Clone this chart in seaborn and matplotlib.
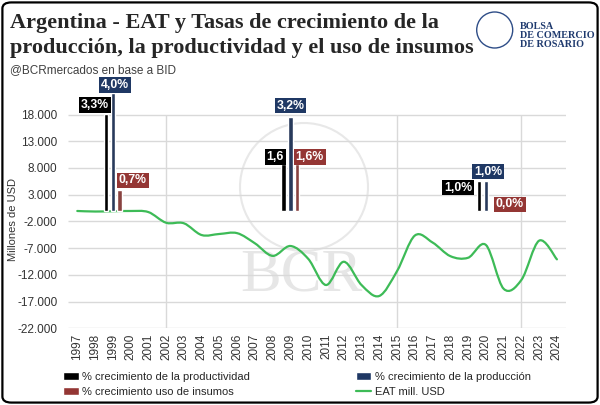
import numpy as np
import pandas as pd
import matplotlib
matplotlib.use("Agg")
import matplotlib.pyplot as plt
import seaborn as sns
from matplotlib.path import Path
from matplotlib.patches import PathPatch, Patch, Circle, FancyBboxPatch
from matplotlib.lines import Line2D
from matplotlib.ticker import FuncFormatter

# --- data ---
years = list(range(1997, 2025))
eat = [-50, -150, -100, -50, -250, -2250, -2350, -4550, -4350, -4200,
       -6100, -8450, -6600, -9000, -13900, -9550, -13900, -15950, -11300, -4650,
       -5950, -8500, -8800, -6400, -14600, -12950, -5600, -9100]

group_years = [1999, 2009, 2020]
productividad = [3.3, 1.6, 1.0]
produccion = [4.0, 3.2, 1.0]
insumos = [0.7, 1.6, 0.0]
lbl_productividad = ["3,3%", "1,6", "1,0%"]
lbl_produccion = ["4,0%", "3,2%", "1,0%"]
lbl_insumos = ["0,7%", "1,6%", "0,0%"]

series_names = ["% crecimiento de la productividad",
                "% crecimiento de la producción",
                "% crecimiento uso de insumos"]
line_name = "EAT mill. USD"

c_black = "#000000"
c_navy = "#1f3864"
c_red = "#943634"
c_green = "#3dbb57"

sns.set_theme(style="white")
plt.rcParams["font.family"] = ["Liberation Sans", "DejaVu Sans"]

fig = plt.figure(figsize=(6, 4.05), dpi=100)
ax = fig.add_axes([0.114, 0.1894, 0.829, 0.5806])
ax.set_facecolor("none")

# watermark (faint), kept behind the axes
fig.add_artist(Circle((3.04, 2.18), 0.64, transform=fig.dpi_scale_trans,
                      fill=False, edgecolor="#e8e8e8", lw=1.5, zorder=-1))
fig.text(0.502, 0.318, "BCR", family="Liberation Serif", fontsize=44,
         color="#e6e6e6", ha="center", va="center", zorder=-1)

# grid
ax.set_ylim(-22000, 22000)
ax.set_xlim(1996.5, 2024.5)
yt = np.arange(-22000, 18001, 5000)
ax.set_yticks(yt)
ax.hlines(yt, 1996.5, 2024.5, color="#d9d9d9", lw=1, zorder=1)
ax.vlines([2002, 2015, 2022], -22000, 18000, color="#d9d9d9", lw=1, zorder=1)
ax.yaxis.set_major_formatter(FuncFormatter(lambda v, p: f"{v:,.0f}".replace(",", ".")))
ax.set_xticks(years)
ax.set_xticklabels([str(y) for y in years], rotation=90)
ax.tick_params(axis="both", length=0, labelsize=8.5, labelcolor="#333333")
ax.tick_params(axis="y", pad=8)
ax.tick_params(axis="x", pad=4)
for s in ax.spines.values():
    s.set_visible(False)

# smoothed EAT line (bezier through the yearly points)
pts = np.column_stack([years, eat]).astype(float)
n = len(pts)
verts = [tuple(pts[0])]
codes = [Path.MOVETO]
for i in range(n - 1):
    p0 = pts[max(i - 1, 0)]
    p1 = pts[i]
    p2 = pts[i + 1]
    p3 = pts[min(i + 2, n - 1)]
    verts += [tuple(p1 + (p2 - p0) / 6), tuple(p2 - (p3 - p1) / 6), tuple(p2)]
    codes += [Path.CURVE4] * 3
ax.add_patch(PathPatch(Path(verts, codes), fill=False, edgecolor=c_green,
                       lw=1.6, zorder=3, capstyle="round"))

# bars on a secondary (hidden) axis
ax2 = ax.twinx()
offsets = [-0.38, 0.0, 0.38]
rows = []
for k, vals in enumerate([productividad, produccion, insumos]):
    for g, v in zip(group_years, vals):
        rows.append({"pos": g + offsets[k], "val": v, "serie": series_names[k]})
df = pd.DataFrame(rows)
sns.barplot(data=df, x="pos", y="val", hue="serie", native_scale=True,
            dodge=False, width=0.66, errorbar=None, legend=False,
            palette=dict(zip(series_names, [c_black, c_navy, c_red])), ax=ax2)
ax2.set_ylim(-4, 4)
ax2.set_xlim(1996.5, 2024.5)
ax2.set_yticks([])
ax2.set_ylabel("")
ax2.set_xlabel("")
for s in ax2.spines.values():
    s.set_visible(False)

# data labels (offsets in points from bar top)
lbl_off = [
    [(-8, 6.5), (-6, 5), (-15, -4.5)],
    [(1.5, 6), (0, 8), (1.5, 7)],
    [(9.5, 7), (9, 5), (12.5, 4.5)],
]
for k, (vals, lbls, col) in enumerate(zip([productividad, produccion, insumos],
                                          [lbl_productividad, lbl_produccion, lbl_insumos],
                                          [c_black, c_navy, c_red])):
    for j, (g, v, t) in enumerate(zip(group_years, vals, lbls)):
        ax2.annotate(t, (g + offsets[k], v), xytext=lbl_off[k][j], textcoords="offset points",
                     ha="center", va="center", fontsize=8.8, fontweight="bold", color="white",
                     bbox=dict(boxstyle="square,pad=0.15", fc=col, ec="none"), zorder=6)

# titles
fig.text(0.016, 0.943, "Argentina - EAT y Tasas de crecimiento de la",
         family="Liberation Serif", fontweight="bold", fontsize=16, va="center", ha="left")
fig.text(0.016, 0.881, "producción, la productividad y el uso de insumos",
         family="Liberation Serif", fontweight="bold", fontsize=16, va="center", ha="left")
fig.text(0.016, 0.827, "@BCRmercados en base a BID", fontsize=8.5, color="#404040",
         va="center", ha="left")
fig.text(0.022, 0.459, "Millones de USD", rotation=90, fontsize=8, color="#333333",
         va="center", ha="center")

# logo
fig.add_artist(Circle((4.947, 3.75), 0.18, transform=fig.dpi_scale_trans,
                      fill=False, edgecolor="#2e4d87", lw=1.0))
for i, t in enumerate(["BOLSA", "DE COMERCIO", "DE ROSARIO"]):
    fig.text(0.867, 0.934 - i * 0.0222, t, family="Liberation Serif", fontweight="bold",
             fontsize=7.3, color="#1f3a6e", va="center", ha="left")

# legend
h1 = [Patch(fc=c_black), Patch(fc=c_red)]
h2 = [Patch(fc=c_navy), Line2D([0], [0], color=c_green, lw=1.6)]
kw = dict(loc="upper left", frameon=False, borderaxespad=0, borderpad=0,
          handlelength=1.4, handletextpad=0.3, labelspacing=0.45, fontsize=8)
fig.legend(h1, [series_names[0], series_names[2]], bbox_to_anchor=(0.105, 0.082), **kw)
fig.legend(h2, [series_names[1], line_name], bbox_to_anchor=(0.593, 0.082), **kw)

# rounded frame
fig.add_artist(FancyBboxPatch((0.004, 0.006), 0.992, 0.988, transform=fig.transFigure,
                              boxstyle="round,pad=0,rounding_size=0.015",
                              fill=False, edgecolor="black", lw=1.6))

fig.savefig("out.png", dpi=100)
